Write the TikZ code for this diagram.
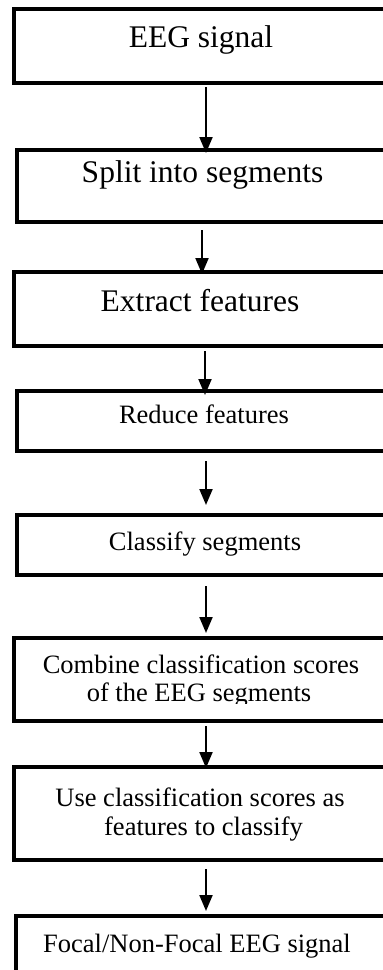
\documentclass[tikz,border=0pt]{standalone}
\usepackage{fontspec}
\setmainfont{Liberation Serif}
\usetikzlibrary{arrows.meta}

\tikzset{
  stepbox/.style={draw=black, line width=4.4pt, rectangle, inner sep=0pt,
                  anchor=north west, minimum width=420pt},
  bigtxt/.style={anchor=base, inner sep=0pt, font=\fontsize{31.5}{33}\selectfont},
  smalltxt/.style={anchor=base, inner sep=0pt, font=\fontsize{26.5}{28}\selectfont},
  flow/.style={draw=black, line width=2pt,
               -{Triangle[length=16pt,width=13pt]}},
}

\begin{document}
\begin{tikzpicture}[x=1pt,y=-1pt]
  \useasboundingbox (0,0) rectangle (383,970);
  \clip (0,0) rectangle (383,970);

  % process boxes (they run on past the right edge)
  \node[stepbox, minimum height=74pt] (b1) at (12,7)   {};
  \node[stepbox, minimum height=72pt] (b2) at (14.5,148) {};
  \node[stepbox, minimum height=74pt] (b3) at (12,270) {};
  \node[stepbox, minimum height=60pt] (b4) at (15,389) {};
  \node[stepbox, minimum height=60pt] (b5) at (15,513) {};
  \node[stepbox, minimum height=83pt] (b6) at (12,636) {};
  \node[stepbox, minimum height=93pt] (b7) at (12,765) {};
  \node[stepbox, minimum height=57pt] (b8) at (14,914) {};

  % labels
  \node[bigtxt] (t1) at (201,47.5) {EEG signal};
  \node[bigtxt] (t2) at (202.5,182) {Split into segments};
  \node[bigtxt] (t3) at (200,311) {Extract features};
  \node[smalltxt] (t4) at (204,423) {Reduce features};
  \node[smalltxt] (t5) at (205,550) {Classify segments};
  \node[smalltxt] (t6a) at (201,673) {Combine classification scores};
  % the second line is cut off just under its baseline
  \begin{scope}
    \clip (0,600) rectangle (383,703);
    \node[smalltxt] (t6b) at (199,701) {of the EEG segments};
  \end{scope}
  \node[smalltxt] (t7a) at (200,806) {Use classification scores as};
  \node[smalltxt] (t7b) at (203.5,835) {features to classify};
  \node[smalltxt] (t8) at (197,952) {Focal/Non-Focal EEG signal};

  % arrow columns
  \coordinate (xa) at (206,0);
  \coordinate (xb) at (202,0);
  \coordinate (xc) at (205,0);

  % connectors
  \draw[flow, shorten <=2pt, shorten >=-5pt] (xa |- b1.south) -- (xa |- b2.north);
  \draw[flow, shorten <=6pt, shorten >=-4pt] (xb |- b2.south) -- (xb |- b3.north);
  \draw[flow, shorten <=3pt, shorten >=-6pt] (xc |- b3.south) -- (xc |- b4.north);
  \draw[flow, shorten <=8pt, shorten >=8pt]  (xa |- b4.south) -- (xa |- b5.north);
  \draw[flow, shorten <=9pt, shorten >=3pt]  (xa |- b5.south) -- (xa |- b6.north);
  \draw[flow, shorten <=3pt, shorten >=-3pt] (xa |- b6.south) -- (xa |- b7.north);
  \draw[flow, shorten <=7pt, shorten >=3pt]  (xa |- b7.south) -- (xa |- b8.north);
\end{tikzpicture}
\end{document}
